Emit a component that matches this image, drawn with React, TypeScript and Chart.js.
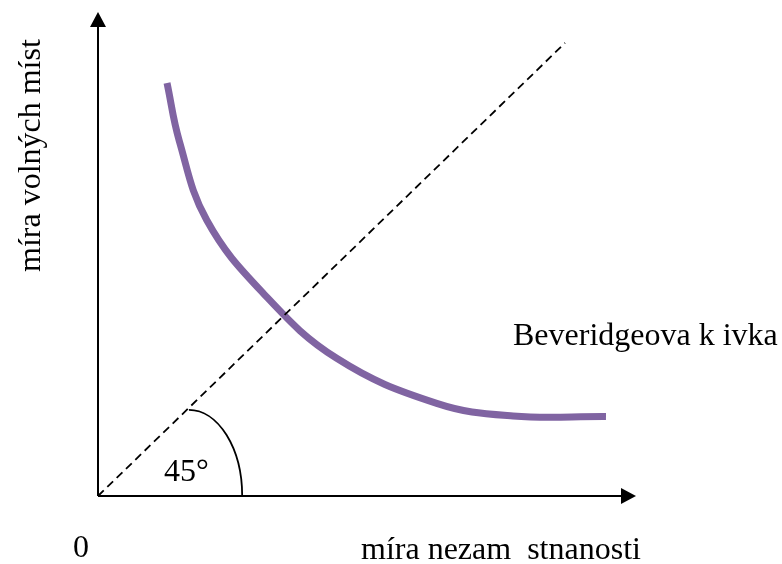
import React, { useEffect, useRef } from "react";
import { Chart, registerables } from "chart.js";

Chart.register(...registerables);

// Data (axis units: 0..100 on both axes)
const AXIS_MAX_X = 100;
const AXIS_MAX_Y = 100;

// Beveridge curve
const curveX = [12.83, 15.11, 20.2, 30.72, 44.37, 62.96, 77.14, 94.42];
const curveY = [85.33, 73.35, 57.02, 41.88, 28.45, 19.15, 16.53, 16.43];

// 45° line
const diagX = [0, 86.8];
const diagY = [0, 93.6];

// angle marker (quarter ellipse)
const ARC_CENTER_X = 16.9;
const ARC_END_X = 26.8;
const ARC_TOP_Y = 17.8;

const LABELS = {
  yTitle: "míra volných míst",
  xTitle: "míra nezam  stnanosti",
  origin: "0",
  angle: "45°",
  curve: "Beveridgeova k ivka",
};

const FONT = '32px "Liberation Serif", "Times New Roman", serif';

const overlayPlugin = {
  id: "overlay",
  beforeDatasetsDraw(chart: any) {
    const { ctx, scales } = chart;
    const xs = scales.x;
    const ys = scales.y;
    const x0 = xs.getPixelForValue(0);
    const y0 = ys.getPixelForValue(0);
    const xEnd = xs.getPixelForValue(AXIS_MAX_X);
    const yEnd = ys.getPixelForValue(AXIS_MAX_Y);
    ctx.save();
    ctx.strokeStyle = "#000";
    ctx.fillStyle = "#000";
    ctx.lineWidth = 2;
    // y axis
    ctx.beginPath();
    ctx.moveTo(x0, y0);
    ctx.lineTo(x0, yEnd + 12);
    ctx.stroke();
    ctx.beginPath();
    ctx.moveTo(x0, yEnd);
    ctx.lineTo(x0 - 8, yEnd + 15);
    ctx.lineTo(x0 + 8, yEnd + 15);
    ctx.closePath();
    ctx.fill();
    // x axis
    ctx.beginPath();
    ctx.moveTo(x0, y0);
    ctx.lineTo(xEnd - 12, y0);
    ctx.stroke();
    ctx.beginPath();
    ctx.moveTo(xEnd, y0);
    ctx.lineTo(xEnd - 15, y0 - 8);
    ctx.lineTo(xEnd - 15, y0 + 8);
    ctx.closePath();
    ctx.fill();
    // angle arc
    const cx = xs.getPixelForValue(ARC_CENTER_X);
    const rx = xs.getPixelForValue(ARC_END_X) - cx;
    const ry = y0 - ys.getPixelForValue(ARC_TOP_Y);
    ctx.lineWidth = 1.8;
    ctx.beginPath();
    ctx.ellipse(cx, y0, rx, ry, 0, -Math.PI / 2, 0);
    ctx.stroke();
    // texts
    ctx.font = FONT;
    ctx.textAlign = "left";
    ctx.textBaseline = "alphabetic";
    ctx.fillText(LABELS.angle, 164, 481);
    ctx.fillText(LABELS.origin, 73, 557);
    ctx.fillText(LABELS.xTitle, 361, 559);
    ctx.fillText(LABELS.curve, 513, 345);
    ctx.save();
    ctx.translate(40, 272);
    ctx.rotate(-Math.PI / 2);
    ctx.fillText(LABELS.yTitle, 0, 0);
    ctx.restore();
    ctx.restore();
  },
};

export default function App() {
  const ref = useRef<HTMLCanvasElement | null>(null);
  useEffect(() => {
    if (!ref.current) return;
    const chart = new Chart(ref.current, {
      type: "line",
      data: {
        datasets: [
          {
            data: diagX.map((x, i) => ({ x, y: diagY[i] })),
            borderColor: "#000",
            borderWidth: 1.8,
            borderDash: [8, 5],
            pointRadius: 0,
            tension: 0,
            fill: false,
            clip: false as any,
          },
          {
            data: curveX.map((x, i) => ({ x, y: curveY[i] })),
            borderColor: "#8064A2",
            borderWidth: 7,
            pointRadius: 0,
            tension: 0.4,
            fill: false,
            borderCapStyle: "butt",
            borderJoinStyle: "round",
            clip: false as any,
          },
        ],
      },
      options: {
        responsive: false,
        animation: false,
        devicePixelRatio: 1,
        layout: { padding: { left: 98, right: 146, top: 12, bottom: 68 } },
        plugins: { legend: { display: false }, tooltip: { enabled: false } },
        scales: {
          x: { type: "linear", min: 0, max: AXIS_MAX_X, display: false },
          y: { type: "linear", min: 0, max: AXIS_MAX_Y, display: false },
        },
      },
      plugins: [overlayPlugin],
    });
    return () => chart.destroy();
  }, []);
  return (
    <div style={{ position: "absolute", left: 0, top: 0, width: 782, height: 564, background: "#fff" }}>
      <canvas ref={ref} width={782} height={564} style={{ width: 782, height: 564 }} />
    </div>
  );
}
